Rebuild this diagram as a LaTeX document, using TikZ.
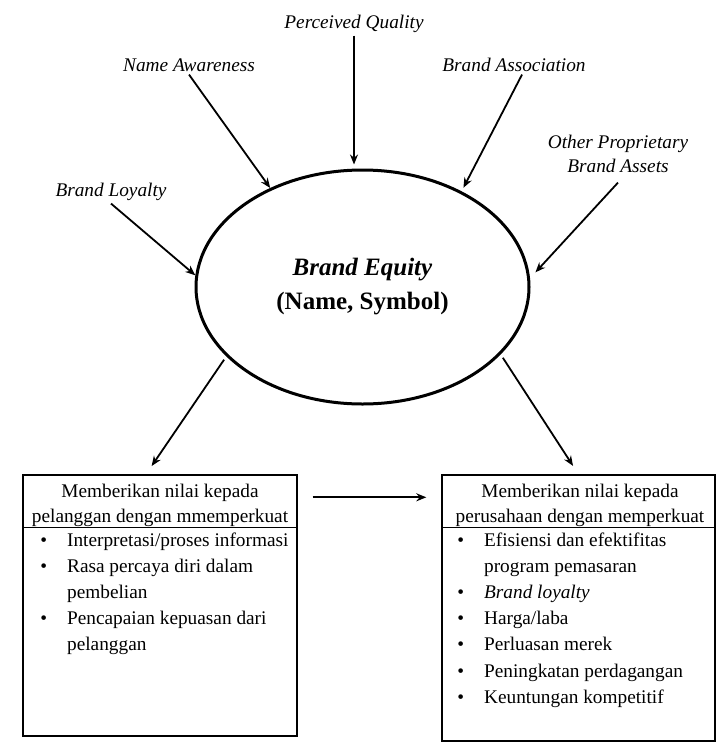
\documentclass[tikz,border=0pt]{standalone}
\usepackage{fontspec}
\setmainfont{Liberation Serif}
\usepackage{tikz}
\usetikzlibrary{shapes,arrows.meta}

\begin{document}
\begin{tikzpicture}[x=0.5pt,y=-0.5pt]
	\tikzset{faktor/.style={font=\fontsize{9.65}{12}\selectfont\itshape,anchor=base,inner sep=1.5pt}}
	\tikzset{panah/.style={-{Stealth[length=5pt,width=4pt]},line width=0.9pt}}
	\tikzset{kotak/.style={draw,line width=0.7pt,inner sep=0pt}}
	\tikzset{judul/.style={font=\fontsize{9.65}{12.5}\selectfont,anchor=base,inner sep=0pt}}
	\tikzset{daftar/.style={font=\fontsize{9.65}{13.1}\selectfont,anchor=base west,inner sep=0pt}}
	\useasboundingbox (0,0) rectangle (717,745);
	\node[draw,ellipse,line width=1.5pt,minimum width=166.5pt,minimum height=117pt,inner sep=0pt,align=center,font=\fontsize{12.5}{17}\selectfont\bfseries] (be) at (362.5,287) {\textit{Brand Equity}\\(Name, Symbol)};
	\node[faktor] (pq) at (354,28) {Perceived Quality};
	\node[faktor] (na) at (189,71) {Name Awareness};
	\node[faktor] (ba) at (514,71) {Brand Association};
	\node[faktor] (bl) at (111,196) {Brand Loyalty};
	\node[faktor] (op) at (618,148) {\begin{tabular}[t]{@{}c@{}}Other Proprietary\\Brand Assets\end{tabular}};
	\draw[panah,shorten >=2pt] (pq.south) -- (pq.south |- be.north);
	\draw[panah] (na.south) -- (be.133);
	\draw[panah,shorten >=2pt] ([xshift=4pt]ba.south) -- (be.44);
	\draw[panah] (bl.south) -- (be.176);
	\draw[panah,shorten >=4pt] (op.south) -- (be.3);
	\node[kotak,minimum width=137pt,minimum height=130.5pt] (kiri) at (160,605.5) {};
	\node[kotak,minimum width=136.5pt,minimum height=133pt] (kana) at (578.5,608) {};
	\draw[line width=0.7pt] ([yshift=-26.5pt]kiri.north west) -- ([yshift=-26.5pt]kiri.north east);
	\draw[line width=0.7pt] ([yshift=-26.5pt]kana.north west) -- ([yshift=-26.5pt]kana.north east);
	\node[judul] (judulkiri) at (160,497) {\begin{tabular}[t]{@{}c@{}}Memberikan nilai kepada\\pelanggan dengan mmemperkuat\end{tabular}};
	\node[judul] (judulkana) at (580,497) {\begin{tabular}[t]{@{}c@{}}Memberikan nilai kepada\\perusahaan dengan memperkuat\end{tabular}};
	\node[daftar] (isikiri) at (40,546) {\begin{tabular}[t]{@{}l@{\hspace{10pt}}l@{}}
		\textbullet & Interpretasi/proses informasi\\
		\textbullet & Rasa percaya diri dalam\\
		& pembelian\\
		\textbullet & Pencapaian kepuasan dari\\
		& pelanggan
	\end{tabular}};
	\node[daftar] (isikana) at (457,546) {\begin{tabular}[t]{@{}l@{\hspace{10pt}}l@{}}
		\textbullet & Efisiensi dan efektifitas\\
		& program pemasaran\\
		\textbullet & \textit{Brand loyalty}\\
		\textbullet & Harga/laba\\
		\textbullet & Perluasan merek\\
		\textbullet & Peningkatan perdagangan\\
		\textbullet & Keuntungan kompetitif
	\end{tabular}};
	\draw[panah,shorten <=2pt,shorten >=5pt] (be.207) -- ([xshift=-7pt]kiri.north);
	\draw[panah,shorten <=2pt,shorten >=5pt] (be.334) -- (kana.north);
	\draw[panah,shorten <=7.5pt,shorten >=7.5pt] ([yshift=-11.5pt]kiri.north east) -- ([yshift=-11.5pt]kana.north west);
\end{tikzpicture}
\end{document}
